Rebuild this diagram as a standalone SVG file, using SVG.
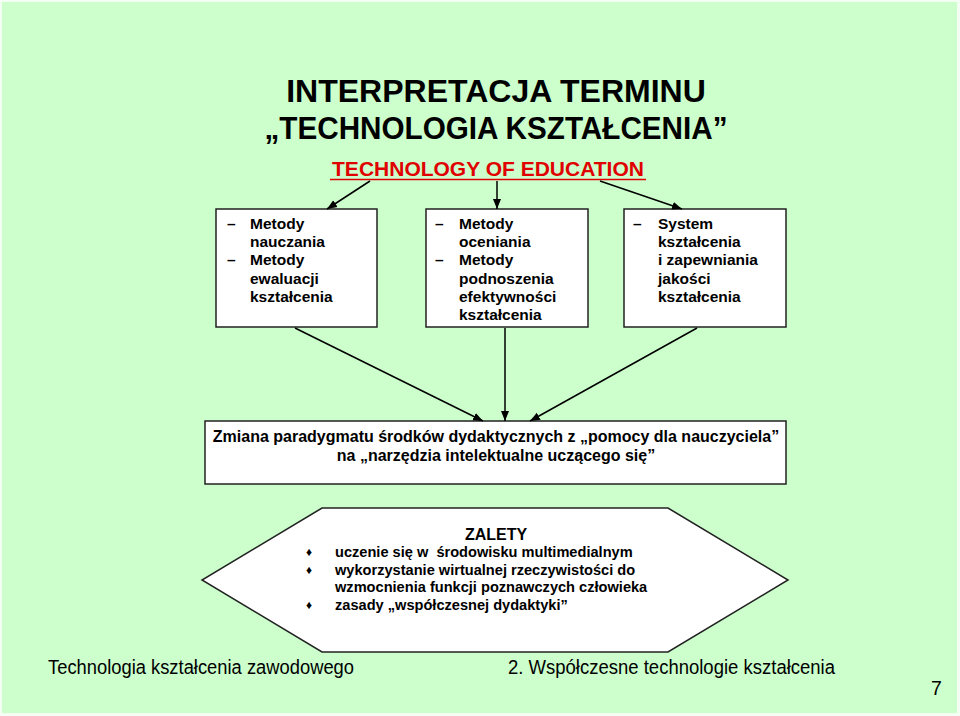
<svg xmlns="http://www.w3.org/2000/svg" width="960" height="716" viewBox="0 0 960 716">
<defs>
<marker id="ah" viewBox="0 0 10 10" refX="10" refY="5" markerWidth="10" markerHeight="10" markerUnits="userSpaceOnUse" orient="auto">
<path d="M0,1 L10,5 L0,9 z" fill="#000"/>
</marker>
<style>
.bx{fill:#fff;stroke:#222;stroke-width:1.5}
.t{font-family:"Liberation Sans",Arial,sans-serif;font-weight:bold;font-size:15.5px;fill:#000}
.h{font-size:14.6px}
.c{text-anchor:middle}
.ft{font-family:"Liberation Sans",Arial,sans-serif;font-size:19.5px;fill:#000}
.ln{stroke:#000;stroke-width:1.5;fill:none;marker-end:url(#ah)}
</style>
</defs>
<rect x="0" y="0" width="960" height="716" fill="#f4fff4"/>
<rect x="2" y="2" width="955" height="711" fill="#ccffcc"/>
<g id="title">
<text x="496" y="102" class="t c" style="font-size:32px">INTERPRETACJA TERMINU</text>
<text x="496" y="139" class="t c" style="font-size:31px" textLength="463" lengthAdjust="spacingAndGlyphs">„TECHNOLOGIA KSZTAŁCENIA”</text>
<text x="488" y="176" class="t c" style="font-size:21px;fill:#e00000">TECHNOLOGY OF EDUCATION</text>
<line x1="330" y1="179.5" x2="646" y2="179.5" stroke="#e00000" stroke-width="1.5"/>
</g>
<g id="box1">
<rect class="bx" x="216" y="209" width="161" height="118"/>
<text class="t" x="227" y="229">–</text><text class="t" x="250" y="229">Metody</text>
<text class="t" x="250" y="247">nauczania</text>
<text class="t" x="227" y="265">–</text><text class="t" x="250" y="265">Metody</text>
<text class="t" x="250" y="284">ewaluacji</text>
<text class="t" x="250" y="302">kształcenia</text>
</g>
<g id="box2">
<rect class="bx" x="426" y="209" width="162" height="118"/>
<text class="t" x="435" y="229">–</text><text class="t" x="459" y="229">Metody</text>
<text class="t" x="459" y="247">oceniania</text>
<text class="t" x="435" y="265">–</text><text class="t" x="459" y="265">Metody</text>
<text class="t" x="459" y="284">podnoszenia</text>
<text class="t" x="459" y="302">efektywności</text>
<text class="t" x="459" y="320">kształcenia</text>
</g>
<g id="box3">
<rect class="bx" x="624" y="209" width="162" height="118"/>
<text class="t" x="633" y="229">–</text><text class="t" x="658" y="229">System</text>
<text class="t" x="658" y="247">kształcenia</text>
<text class="t" x="658" y="265">i zapewniania</text>
<text class="t" x="658" y="284">jakości</text>
<text class="t" x="658" y="302">kształcenia</text>
</g>
<g id="box4">
<rect class="bx" x="205" y="421" width="581" height="63"/>
<text class="t c" x="496" y="442" style="font-size:16px">Zmiana paradygmatu środków dydaktycznych z „pomocy dla nauczyciela”</text>
<text class="t c" x="496" y="461" style="font-size:16px">na „narzędzia intelektualne uczącego się”</text>
</g>
<g id="zalety">
<polygon class="bx" points="322,508 668,508 788,580 668,652 322,652 202,580"/>
<text class="t c" x="496" y="540" style="font-size:16px">ZALETY</text>
<text class="t" x="306" y="556" style="font-size:12px">♦</text><text class="t h" x="335" y="557" style="white-space:pre">uczenie się w  środowisku multimedialnym</text>
<text class="t" x="306" y="574" style="font-size:12px">♦</text><text class="t h" x="335" y="575">wykorzystanie wirtualnej rzeczywistości do</text>
<text class="t h" x="335" y="592">wzmocnienia funkcji poznawczych człowieka</text>
<text class="t" x="306" y="609" style="font-size:12px">♦</text><text class="t h" x="335" y="610">zasady „współczesnej dydaktyki”</text>
</g>
<g id="connectors">
<line class="ln" x1="370" y1="181" x2="327" y2="209"/>
<line class="ln" x1="497" y1="181" x2="497" y2="209"/>
<line class="ln" x1="600" y1="181" x2="682" y2="209"/>
<line class="ln" x1="295" y1="328" x2="483" y2="421"/>
<line class="ln" x1="505" y1="328" x2="505" y2="421"/>
<line class="ln" x1="697" y1="328" x2="530" y2="421"/>
</g>
<g id="footer">
<text class="ft" x="48" y="674" textLength="306" lengthAdjust="spacingAndGlyphs">Technologia kształcenia zawodowego</text>
<text class="ft" x="508" y="674" textLength="327" lengthAdjust="spacingAndGlyphs">2. Współczesne technologie kształcenia</text>
<text class="ft" x="931" y="695">7</text>
</g>
</svg>
